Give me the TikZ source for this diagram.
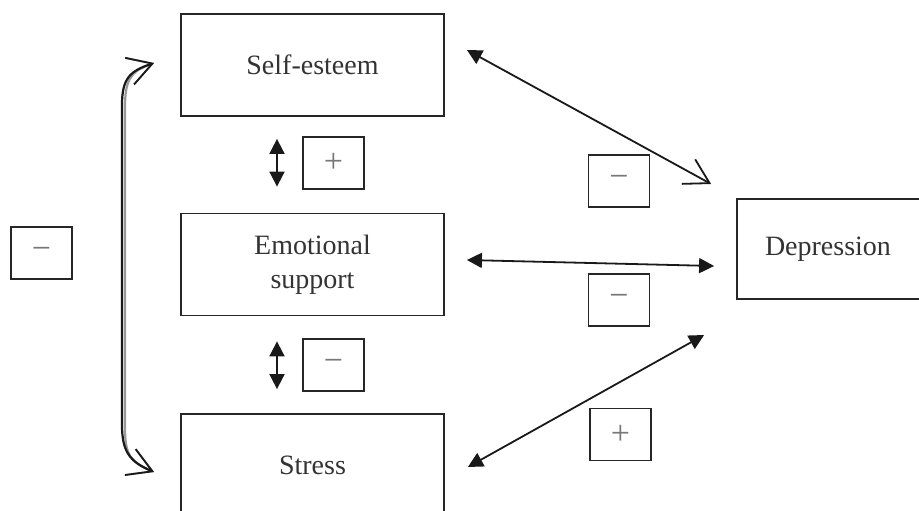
\documentclass[tikz,border=0pt]{standalone}
\usepackage{fontspec}
\setmainfont{Liberation Serif}
\usetikzlibrary{arrows.meta,calc}
\definecolor{txt}{HTML}{333333}
\definecolor{sym}{HTML}{777777}
\tikzset{
  barbtip/.tip={Straight Barb[length=24pt,width=28pt,line width=1.8pt]},
  filltip/.tip={Triangle[length=15pt,width=15pt]}
}
\begin{document}
\begin{tikzpicture}[x=1pt,y=-1pt,
  bigbox/.style={draw=black!85,line width=1.8pt,minimum width=263pt,minimum height=102pt,inner sep=0pt,
    text=txt,font=\fontsize{28}{34}\selectfont,align=center},
  signbox/.style={draw=black!85,line width=1.8pt,minimum width=61pt,minimum height=52pt,inner sep=0pt,
    text=sym,font=\fontsize{34}{34}\selectfont},
  link/.style={line width=1.8pt,draw=black!90}
]
\useasboundingbox (0,0) rectangle (919,511);

% main boxes
\node[bigbox] (se) at (312.5,65) {Self-esteem};
\node[bigbox] (em) at (312.5,264.5) {Emotional\\support};
\node[bigbox] (st) at (312.5,465) {Stress};
\node[bigbox,minimum width=186pt,minimum height=100pt] (dep) at (830,249) {\hspace*{-4pt}Depression};

% sign boxes
\node[signbox] (s1) at (333.5,163) {+};
\node[signbox] (s2) at (333.5,365) {−};
\node[signbox] (s3) at (41.5,253) {−};
\node[signbox] (s4) at (619,181) {−};
\node[signbox] (s5) at (619,300) {−};
\node[signbox] (s6) at (620.5,434.5) {+};

% endpoints
\coordinate (a1) at ($(se.east)+(22,-15)$);
\coordinate (b1) at ($(dep.west)+(-25,-65)$);
\coordinate (a2) at ($(em.east)+(22,-4.5)$);
\coordinate (b2) at ($(dep.west)+(-22,17)$);
\coordinate (a3) at ($(st.east)+(23,2)$);
\coordinate (b3) at ($(dep.west)+(-32,86)$);
\coordinate (v1) at ($(se.south)+(-35.5,22)$);
\coordinate (w1) at ($(em.north)+(-35.5,-26)$);
\coordinate (v2) at ($(em.south)+(-35.5,25)$);
\coordinate (w2) at ($(st.north)+(-35.5,-24)$);
\coordinate (t1) at ($(se.west)+(-26,-2)$);
\coordinate (t2) at ($(st.west)+(-26,7)$);

% arrows to depression
\draw[link,filltip-barbtip] (a1) -- (b1);
\draw[link,filltip-filltip] (a2) -- (b2);
\draw[link,filltip-filltip] (a3) -- (b3);

% vertical arrows
\draw[link,filltip-filltip] (v1) -- (w1);
\draw[link,filltip-filltip] (v2) -- (w2);

% curved arrow with shadow
\begin{scope}[shift={(3,2.5)}]
\draw[line width=2.2pt,draw=black!40,barbtip-barbtip]
  (t1) .. controls ($(t1)+(-24,8)$) and (122,78) .. (122,105)
  -- (122,425) .. controls (122,452) and ($(t2)+(-24,-10)$) .. (t2);
\end{scope}
\draw[line width=2.2pt,draw=black!90,barbtip-barbtip]
  (t1) .. controls ($(t1)+(-24,8)$) and (122,78) .. (122,105)
  -- (122,425) .. controls (122,452) and ($(t2)+(-24,-10)$) .. (t2);
\end{tikzpicture}
\end{document}
